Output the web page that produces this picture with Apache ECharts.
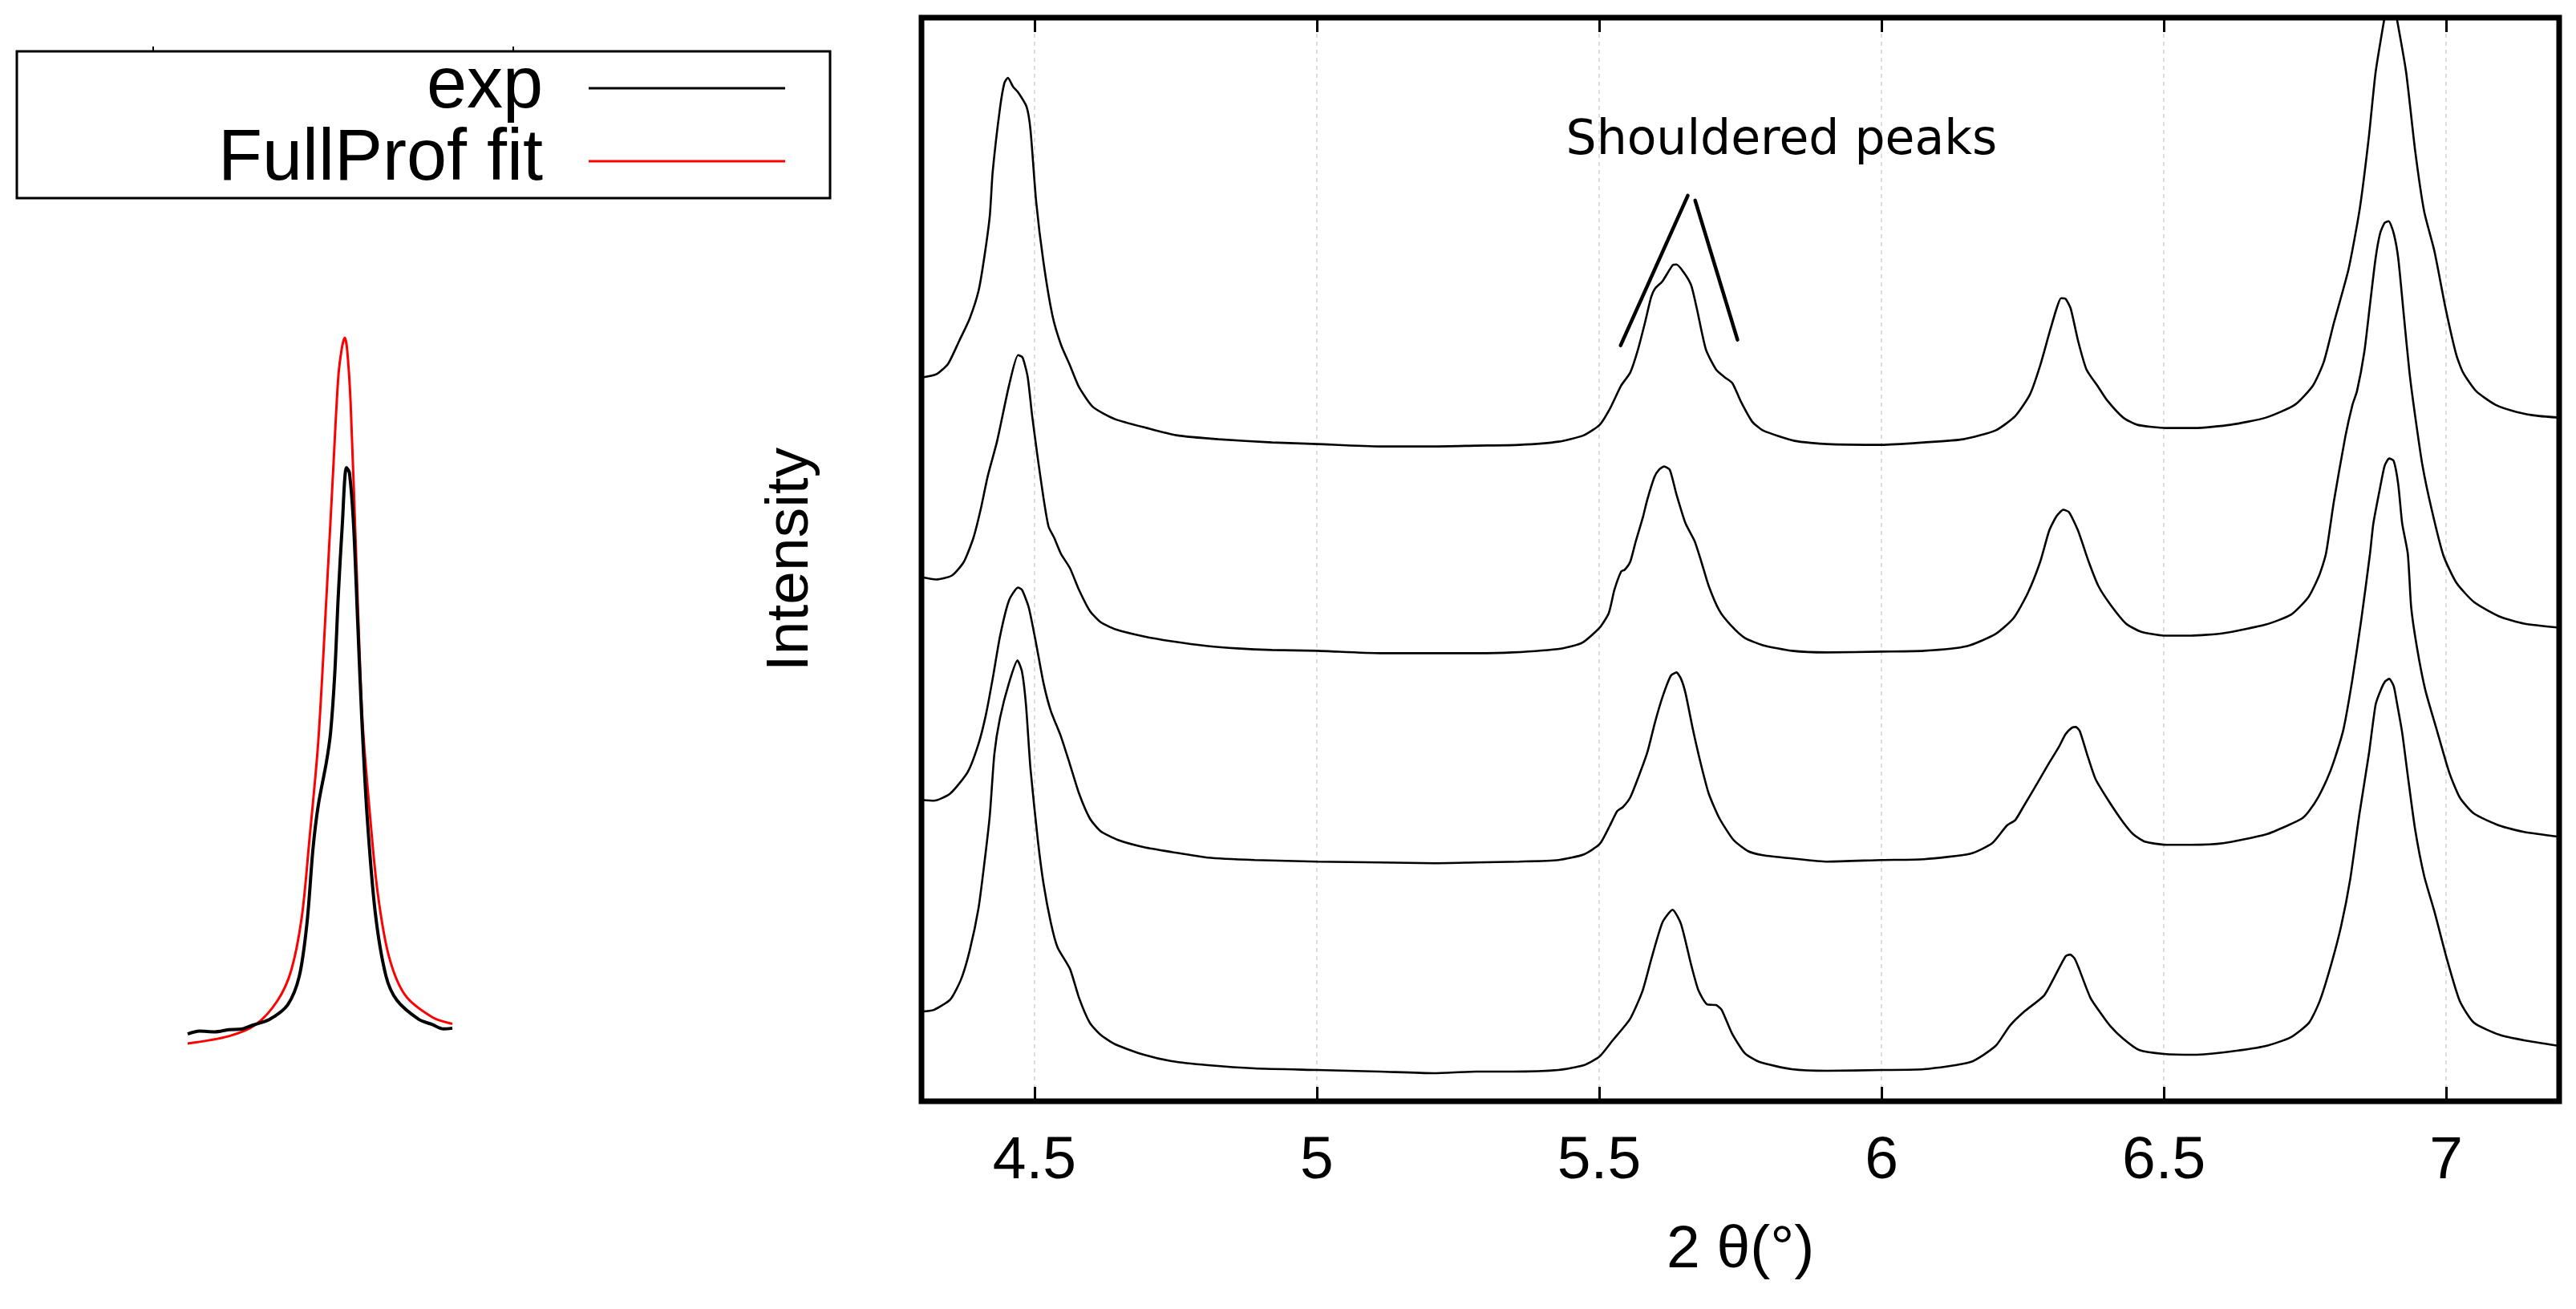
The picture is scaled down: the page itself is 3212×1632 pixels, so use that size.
<!DOCTYPE html>
<html>
<head>
<meta charset="utf-8">
<script src="https://cdn.jsdelivr.net/npm/echarts@6/dist/echarts.min.js"></script>
<style>
html,body{margin:0;padding:0;background:#ffffff;}
#c{width:3212px;height:1632px;}
</style>
</head>
<body>
<div id="c"></div>
<script>
// ---- Main panel: four stacked XRD patterns, [2theta (deg), intensity (arb. units, offset)] ----
const curve1 = [[4.300,903],[4.326,907],[4.347,920],[4.367,949],[4.385,976],[4.401,1011],[4.411,1052],[4.421,1105],[4.426,1159],[4.439,1239],[4.447,1271],[4.453,1277],[4.462,1266],[4.471,1259],[4.486,1241],[4.493,1212],[4.503,1123],[4.516,1047],[4.532,980],[4.547,944],[4.563,918],[4.579,891],[4.604,866],[4.643,851],[4.699,840],[4.751,831],[4.826,826],[4.921,822],[5.001,820],[5.112,817],[5.207,817],[5.282,818],[5.359,819],[5.428,823],[5.473,831],[5.501,844],[5.519,864],[5.539,893],[5.555,909],[5.568,936],[5.581,971],[5.592,1003],[5.599,1014],[5.612,1023],[5.630,1043],[5.637,1044],[5.650,1034],[5.663,1018],[5.673,989],[5.689,938],[5.707,913],[5.723,903],[5.736,896],[5.751,873],[5.771,848],[5.790,837],[5.846,824],[5.903,820],[6.001,819],[6.075,822],[6.145,826],[6.202,837],[6.237,855],[6.263,882],[6.281,918],[6.297,958],[6.310,989],[6.318,1002],[6.326,1001],[6.335,989],[6.348,949],[6.363,913],[6.384,891],[6.399,875],[6.428,853],[6.453,844],[6.504,840],[6.554,840],[6.618,844],[6.681,853],[6.732,869],[6.764,893],[6.783,922],[6.801,971],[6.827,1038],[6.847,1114],[6.863,1203],[6.875,1284],[6.891,1353],[6.901,1392],[6.912,1353],[6.929,1284],[6.945,1186],[6.961,1110],[6.979,1061],[6.999,989],[7.018,931],[7.030,909],[7.053,886],[7.087,869],[7.125,860],[7.164,855],[7.200,853]];

const curve2 = [[4.300,654],[4.326,651],[4.354,656],[4.375,673],[4.392,703],[4.405,739],[4.417,779],[4.434,824],[4.455,893],[4.471,931],[4.479,928],[4.488,904],[4.496,855],[4.506,802],[4.516,753],[4.525,717],[4.535,703],[4.547,683],[4.563,665],[4.579,638],[4.598,612],[4.617,598],[4.643,589],[4.694,580],[4.743,574],[4.807,568],[4.859,565],[4.921,563],[5.001,562],[5.112,559],[5.207,559],[5.282,559],[5.346,560],[5.434,565],[5.470,572],[5.501,591],[5.517,609],[5.527,638],[5.539,661],[5.545,663],[5.555,673],[5.565,699],[5.578,730],[5.585,750],[5.598,779],[5.606,788],[5.615,792],[5.625,788],[5.637,757],[5.653,721],[5.669,699],[5.681,673],[5.694,643],[5.713,612],[5.733,594],[5.758,578],[5.790,569],[5.841,562],[5.904,560],[6.001,561],[6.075,562],[6.152,568],[6.202,583],[6.234,603],[6.259,634],[6.281,673],[6.297,712],[6.310,730],[6.322,738],[6.332,735],[6.348,712],[6.367,673],[6.384,643],[6.405,620],[6.433,596],[6.459,586],[6.500,581],[6.548,581],[6.605,584],[6.681,595],[6.725,607],[6.756,629],[6.775,656],[6.787,683],[6.801,748],[6.821,828],[6.834,869],[6.842,886],[6.855,935],[6.865,994],[6.875,1052],[6.883,1083],[6.891,1096],[6.898,1098],[6.907,1083],[6.915,1052],[6.925,980],[6.935,909],[6.945,855],[6.958,793],[6.974,739],[6.995,681],[7.018,647],[7.049,623],[7.094,605],[7.138,596],[7.200,591]];

const curve3 = [[4.300,376],[4.322,375],[4.351,384],[4.382,411],[4.401,446],[4.414,482],[4.426,527],[4.439,580],[4.455,625],[4.471,641],[4.478,638],[4.490,616],[4.503,571],[4.516,522],[4.529,487],[4.547,455],[4.563,420],[4.579,384],[4.598,353],[4.617,337],[4.648,326],[4.694,317],[4.743,311],[4.807,304],[4.890,301],[5.001,299],[5.112,298],[5.207,297],[5.282,298],[5.358,299],[5.428,301],[5.473,308],[5.501,321],[5.519,344],[5.532,362],[5.542,367],[5.555,379],[5.573,411],[5.586,437],[5.599,473],[5.612,504],[5.627,531],[5.637,535],[5.645,527],[5.653,509],[5.666,464],[5.679,424],[5.694,384],[5.713,353],[5.738,326],[5.764,312],[5.790,307],[5.841,303],[5.904,299],[6.001,301],[6.075,302],[6.158,309],[6.196,322],[6.222,344],[6.237,351],[6.250,366],[6.276,397],[6.295,420],[6.314,442],[6.326,458],[6.337,466],[6.344,467],[6.351,462],[6.364,433],[6.379,402],[6.402,375],[6.428,348],[6.446,333],[6.466,324],[6.504,320],[6.548,320],[6.605,322],[6.681,333],[6.719,344],[6.745,353],[6.757,362],[6.773,379],[6.789,402],[6.801,424],[6.818,464],[6.834,527],[6.850,603],[6.865,683],[6.871,721],[6.883,766],[6.891,793],[6.899,802],[6.907,799],[6.915,770],[6.922,721],[6.932,683],[6.938,616],[6.948,567],[6.963,513],[6.983,464],[7.005,411],[7.024,379],[7.049,359],[7.094,344],[7.138,336],[7.200,330]];

const curve4 = [[4.300,112],[4.322,114],[4.351,127],[4.370,152],[4.385,187],[4.401,241],[4.411,295],[4.421,357],[4.429,433],[4.439,478],[4.455,522],[4.470,550],[4.478,536],[4.485,495],[4.493,415],[4.506,326],[4.516,272],[4.529,223],[4.541,192],[4.563,165],[4.579,129],[4.598,98],[4.617,83],[4.643,71],[4.694,58],[4.743,50],[4.807,45],[4.890,41],[5.001,39],[5.112,37],[5.207,35],[5.282,37],[5.346,37],[5.428,39],[5.473,45],[5.501,56],[5.524,76],[5.555,103],[5.577,138],[5.593,179],[5.612,223],[5.630,239],[5.645,221],[5.663,170],[5.676,138],[5.691,121],[5.707,120],[5.717,114],[5.735,85],[5.758,60],[5.784,49],[5.841,40],[5.904,38],[6.001,39],[6.075,40],[6.158,49],[6.202,69],[6.227,94],[6.253,112],[6.288,132],[6.307,156],[6.326,181],[6.334,183],[6.342,178],[6.350,165],[6.370,129],[6.389,109],[6.405,94],[6.428,78],[6.456,64],[6.500,59],[6.554,58],[6.618,62],[6.681,69],[6.725,80],[6.757,98],[6.776,125],[6.796,170],[6.814,219],[6.830,277],[6.846,357],[6.863,433],[6.875,495],[6.884,513],[6.892,524],[6.899,527],[6.907,518],[6.912,500],[6.922,460],[6.932,406],[6.945,339],[6.961,281],[6.979,237],[7.001,178],[7.024,125],[7.049,98],[7.094,83],[7.138,76],[7.200,69]];

// ---- Inset: single peak, experiment vs FullProf fit ----
const insetExp = [[4.250,2.4],[4.270,2.8],[4.296,2.7],[4.320,3.0],[4.343,3.1],[4.360,3.6],[4.389,4.4],[4.420,6.4],[4.440,10.4],[4.453,17.7],[4.463,27.7],[4.472,33.7],[4.486,39.7],[4.493,43.7],[4.500,51.6],[4.506,62.3],[4.513,72.3],[4.520,80.0],[4.525,79.3],[4.532,72.3],[4.539,59.0],[4.546,45.7],[4.555,32.4],[4.569,19.0],[4.587,10.4],[4.606,7.0],[4.643,4.4],[4.666,3.7],[4.685,3.1],[4.700,3.2]];
const insetFit = [[4.250,1.1],[4.320,2.1],[4.366,3.7],[4.403,7.0],[4.426,11.1],[4.444,18.4],[4.457,29.0],[4.472,42.4],[4.486,62.3],[4.497,79.0],[4.506,92.3],[4.512,96.3],[4.517,97.8],[4.521,96.3],[4.527,89.0],[4.536,69.0],[4.547,45.7],[4.560,32.4],[4.573,21.8],[4.592,13.1],[4.620,7.7],[4.666,4.7],[4.700,3.8]];

// ---- Annotation ----
const annoText = 'Shouldered peaks';
const annoTextPos = [5.823, 1197];
const annoLeft = [[5.538,943],[5.657,1130]];
const annoRight = [[5.670,1124],[5.745,950]];

// ---- Text ----
const xName = '2 θ(°)';
const yName = 'Intensity';
const legendNames = ['exp', 'FullProf fit'];
const legendColors = ['#000000', '#ff0000'];

const chart = echarts.init(document.getElementById('c'), null, {renderer: 'canvas', width: 3212, height: 1632});

const sansFont = 'Liberation Sans';
const curveStyle = {color: '#000', width: 2.6};

const mainCurves = [curve1, curve2, curve3, curve4].map(function (d, i) {
  return {
    type: 'line', name: 'pattern ' + (i + 1), xAxisIndex: 0, yAxisIndex: 0,
    data: d, showSymbol: false, symbol: 'none', smooth: 0.2, clip: true,
    lineStyle: curveStyle, z: 3, silent: true
  };
});

const option = {
  animation: false,
  backgroundColor: '#ffffff',
  grid: [
    {left: 1149, right: 21, top: 22, bottom: 259, show: true, borderColor: '#000', borderWidth: 7, backgroundColor: 'rgba(0,0,0,0)'},
    {left: 234, width: 330, top: 401, height: 910, show: false}
  ],
  xAxis: [
    {
      gridIndex: 0, type: 'value', min: 4.3, max: 7.2, splitNumber: 6, position: 'bottom',
      axisLine: {show: false},
      axisTick: {show: true, inside: true, length: 18, lineStyle: {color: '#000', width: 3}},
      axisLabel: {show: true, margin: 38, fontSize: 75, fontFamily: sansFont, color: '#000', showMinLabel: false, showMaxLabel: false},
      splitLine: {show: true, showMinLine: false, showMaxLine: false, lineStyle: {color: '#d2d2d2', width: 1.5, type: [5, 5]}},
      name: xName, nameLocation: 'middle', nameGap: 149,
      nameTextStyle: {fontSize: 75, fontFamily: sansFont, color: '#000'}
    },
    {
      gridIndex: 0, type: 'value', min: 4.3, max: 7.2, splitNumber: 6, position: 'top',
      axisLine: {show: false},
      axisTick: {show: true, inside: true, length: 18, lineStyle: {color: '#000', width: 3}},
      axisLabel: {show: false}, splitLine: {show: false}
    },
    {gridIndex: 1, type: 'value', min: 4.25, max: 4.70, show: false}
  ],
  yAxis: [
    {
      gridIndex: 0, type: 'value', min: 0, max: 1352,
      axisLine: {show: false}, axisTick: {show: false}, axisLabel: {show: false}, splitLine: {show: false},
      name: yName, nameLocation: 'middle', nameGap: 125,
      nameTextStyle: {fontSize: 75, fontFamily: sansFont, color: '#000'}
    },
    {gridIndex: 1, type: 'value', min: 0, max: 100, show: false}
  ],
  series: mainCurves.concat([
    {type: 'line', name: 'annoLeft', xAxisIndex: 0, yAxisIndex: 0, data: annoLeft, showSymbol: false, symbol: 'none', lineStyle: {color: '#000', width: 4.5, cap: 'round'}, z: 4, silent: true},
    {type: 'line', name: 'annoRight', xAxisIndex: 0, yAxisIndex: 0, data: annoRight, showSymbol: false, symbol: 'none', lineStyle: {color: '#000', width: 4.5, cap: 'round'}, z: 4, silent: true},
    {type: 'line', name: legendNames[1], xAxisIndex: 2, yAxisIndex: 1, data: insetFit, showSymbol: false, symbol: 'none', smooth: 0.3, clip: false, lineStyle: {color: legendColors[1], width: 3}, z: 3, silent: true},
    {type: 'line', name: legendNames[0], xAxisIndex: 2, yAxisIndex: 1, data: insetExp, showSymbol: false, symbol: 'none', smooth: 0.3, clip: false, lineStyle: {color: legendColors[0], width: 4}, z: 4, silent: true}
  ]),
  graphic: [
    // inset frame remnants (ticks above the key box)
    {type: 'line', shape: {x1: 191, y1: 58, x2: 191, y2: 64}, style: {stroke: '#000', lineWidth: 2}, silent: true},
    {type: 'line', shape: {x1: 640, y1: 58, x2: 640, y2: 64}, style: {stroke: '#000', lineWidth: 2}, silent: true},
    // key box
    {type: 'rect', shape: {x: 21, y: 64, width: 1014, height: 183}, style: {fill: '#fff', stroke: '#000', lineWidth: 3}, z: 10, silent: true},
    {type: 'text', x: 677, y: 109, z: 11, silent: true, style: {text: legendNames[0], fontSize: 90, fontFamily: sansFont, fill: '#000', align: 'right', verticalAlign: 'middle'}},
    {type: 'text', x: 677, y: 199, z: 11, silent: true, style: {text: legendNames[1], fontSize: 90, fontFamily: sansFont, fill: '#000', align: 'right', verticalAlign: 'middle'}},
    {type: 'line', z: 11, silent: true, shape: {x1: 734, y1: 110, x2: 979, y2: 110}, style: {stroke: legendColors[0], lineWidth: 3}},
    {type: 'line', z: 11, silent: true, shape: {x1: 734, y1: 201, x2: 979, y2: 201}, style: {stroke: legendColors[1], lineWidth: 3}}
  ]
};

chart.setOption(option);

// annotation text and plot frame placed from the axes
const annoPx = chart.convertToPixel({xAxisIndex: 0, yAxisIndex: 0}, annoTextPos);
const gridRect = chart.getModel().getComponent('grid', 0).coordinateSystem.getRect();
chart.setOption({
  graphic: [
    {id: 'annoText', type: 'text', x: annoPx[0], y: annoPx[1], z: 12, silent: true,
     style: {text: annoText, fontSize: 60, fontFamily: 'DejaVu Sans', fill: '#000', align: 'center', verticalAlign: 'middle'}},
    {id: 'frame', type: 'rect', z: 20, silent: true,
     shape: {x: gridRect.x, y: gridRect.y, width: gridRect.width, height: gridRect.height},
     style: {fill: 'none', stroke: '#000', lineWidth: 6}}
  ]
});
</script>
</body>
</html>
